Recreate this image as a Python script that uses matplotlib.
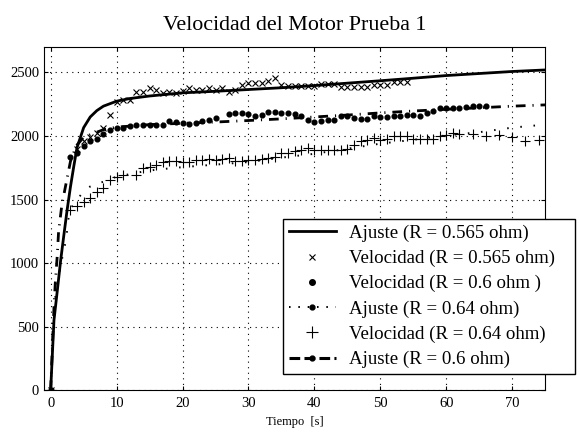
import matplotlib
matplotlib.use("Agg")
import matplotlib.pyplot as plt
from matplotlib.lines import Line2D

plt.rcParams['font.family'] = ['Liberation Serif', 'DejaVu Serif']

# Ajuste (R = 0.565 ohm)
t_fit565 = [0, 0.5, 1, 1.5, 2, 2.5, 3, 3.5, 4, 5, 6, 7, 8, 10, 12, 15, 20, 25, 30, 35, 40, 45, 50, 55, 60, 65, 70, 75]
v_fit565 = [0, 550, 780, 1015, 1220, 1420, 1600, 1760, 1910, 2066, 2150, 2200, 2235, 2274, 2295, 2315, 2340, 2352,
            2366, 2380, 2397, 2416, 2435, 2455, 2476, 2492, 2508, 2520]

# Velocidad (R = 0.565 ohm)
t_vel565 = [0, 4, 5, 6, 7, 8, 9, 10, 11, 12, 13, 14, 15, 16, 17, 18, 19, 20, 21, 22, 23, 24, 25, 26, 27, 28, 29,
            30, 31, 32, 33, 34, 35, 36, 37, 38, 39, 40, 41, 42, 43, 44, 45, 46, 47, 48, 49, 50, 51, 52, 53, 54]
v_vel565 = [0, 1900, 1960, 1990, 2027, 2063, 2165, 2268, 2280, 2280, 2350, 2350, 2379, 2360, 2340, 2345, 2340,
            2353, 2379, 2366, 2366, 2379, 2366, 2379, 2348, 2366, 2405, 2419, 2419, 2419, 2432, 2453, 2405, 2392,
            2392, 2392, 2392, 2392, 2413, 2413, 2413, 2387, 2387, 2387, 2387, 2387, 2405, 2405, 2405, 2424, 2424, 2424]

# Velocidad (R = 0.6 ohm)
t_vel6 = [0, 3, 4, 5, 6, 7, 8, 9, 10, 11, 12, 13, 14, 15, 16, 17, 18, 19, 20, 21, 22, 23, 24, 25, 27, 28, 29,
          30, 31, 32, 33, 34, 35, 36, 37, 38, 39, 40, 41, 42, 43, 44, 45, 46, 47, 48, 49, 50, 51, 52, 53, 54,
          55, 56, 57, 58, 59, 60, 61, 62, 63, 64, 65, 66]
v_vel6 = [0, 1835, 1869, 1919, 1958, 1977, 2019, 2045, 2060, 2066, 2075, 2083, 2085, 2085, 2088, 2088, 2116, 2108,
          2105, 2098, 2105, 2116, 2130, 2143, 2177, 2182, 2182, 2174, 2161, 2169, 2190, 2190, 2182, 2182, 2175,
          2156, 2130, 2108, 2116, 2124, 2130, 2156, 2161, 2143, 2137, 2137, 2156, 2150, 2150, 2161, 2161, 2169,
          2169, 2161, 2182, 2195, 2222, 2218, 2218, 2222, 2230, 2240, 2240, 2240]

# Ajuste (R = 0.64 ohm)
t_fit64 = [0, 0.3, 0.6, 1.1, 1.9, 2.4, 2.6, 3.1, 4, 4.6, 5, 6, 7, 8, 9, 10, 12, 14, 16, 18, 20, 25, 30, 35, 40,
           45, 50, 55, 60, 65, 70, 75]
v_fit64 = [0, 400, 696, 867, 1080, 1196, 1327, 1435, 1500, 1538, 1560, 1603, 1625, 1640, 1660, 1680, 1700, 1720,
           1735, 1745, 1755, 1775, 1795, 1830, 1860, 1900, 1940, 1970, 2005, 2030, 2066, 2090]

# Velocidad (R = 0.64 ohm)
t_vel64 = [0, 3, 4, 5, 6, 7, 8, 9, 10, 11, 13, 14, 15, 16, 17, 18, 19, 20, 21, 22, 23, 24, 25, 26, 27, 28, 29,
           30, 31, 32, 33, 34, 35, 36, 37, 38, 39, 40, 41, 42, 43, 44, 45, 46, 47, 48, 49, 50, 51, 52, 53, 54,
           55, 56, 57, 58, 59, 60, 61, 62, 64, 66, 68, 70, 72, 74]
v_vel64 = [0, 1420, 1450, 1480, 1512, 1556, 1590, 1656, 1674, 1696, 1696, 1748, 1755, 1770, 1793, 1800, 1800,
           1793, 1793, 1809, 1814, 1819, 1814, 1819, 1827, 1800, 1800, 1814, 1814, 1819, 1827, 1835, 1866, 1866,
           1880, 1893, 1906, 1893, 1887, 1887, 1893, 1893, 1898, 1932, 1958, 1972, 1985, 1966, 1977, 1998, 1998,
           1998, 1977, 1977, 1977, 1977, 1998, 2011, 2024, 2019, 2019, 2003, 2011, 1993, 1958, 1972]

# Ajuste (R = 0.6 ohm)
t_fit6 = [0, 0.5, 0.7, 1, 1.2, 1.7, 2.5, 3, 3.5, 4, 5, 6, 7, 8, 10, 15, 20, 25, 30, 35, 40, 45, 50, 55, 60, 65,
          70, 75]
v_fit6 = [0, 650, 843, 1060, 1248, 1459, 1670, 1800, 1870, 1930, 1990, 2010, 2030, 2050, 2070, 2090, 2100, 2110,
          2122, 2135, 2150, 2165, 2182, 2197, 2210, 2222, 2235, 2245]

fig = plt.figure(figsize=(5.8, 4.32), dpi=100)
ax = fig.add_axes([0.076, 0.097, 0.864, 0.794])

ax.plot(t_fit565, v_fit565, '-', color='black', lw=2)
ax.plot(t_vel565, v_vel565, 'x', color='black', ms=5, mew=0.8)
ax.plot(t_vel6, v_vel6, 'o', color='black', ms=3.4)
ax.plot(t_fit64, v_fit64, color='black', lw=1.4, ls=(0, (0.8, 6)))
ax.plot(t_vel64, v_vel64, '+', color='black', ms=7, mew=0.8)
ax.plot(t_fit6, v_fit6, color='black', lw=2, ls=(0, (3.5, 2.5, 0.4, 2.5)))

ax.set_xlim(-1, 75)
ax.set_ylim(0, 2700)
ax.set_xticks(range(0, 71, 10))
ax.set_yticks(range(0, 2501, 500))
ax.grid(True, color='black', ls=(0, (1, 4)), lw=0.8)
ax.tick_params(direction='in', top=True, right=True, labelsize=10.5, length=3)
ax.tick_params(axis='x', pad=5)
for s in ax.spines.values():
    s.set_linewidth(0.8)

ax.set_title('Velocidad del Motor Prueba 1', fontsize=15.8, pad=12)
ax.set_xlabel('Tiempo  [s]', fontsize=9, labelpad=4)

handles = [
    Line2D([], [], color='black', lw=2),
    Line2D([], [], color='black', ls='none', marker='x', ms=4, mew=0.8),
    Line2D([], [], color='black', ls='none', marker='o', ms=4),
    Line2D([], [], color='black', lw=1.4, ls=(0, (0.8, 4)), marker='o', ms=3.5),
    Line2D([], [], color='black', ls='none', marker='+', ms=8, mew=0.8),
    Line2D([], [], color='black', lw=2.2, ls=(0, (3.5, 1.4)), marker='o', ms=3.5),
]
labels = ['Ajuste (R = 0.565 ohm)', 'Velocidad (R = 0.565 ohm)', 'Velocidad (R = 0.6 ohm )',
          'Ajuste (R = 0.64 ohm)', 'Velocidad (R = 0.64 ohm)', 'Ajuste (R = 0.6 ohm)']
leg = fig.legend(handles, labels, loc='upper left',
                 bbox_to_anchor=(283 / 580, 1 - 373 / 432, (575 - 283) / 580, (373 - 219) / 432),
                 bbox_transform=fig.transFigure, mode='expand', fontsize=13.6, numpoints=1,
                 handlelength=2.5, labelspacing=0.42, fancybox=False, framealpha=1, edgecolor='black',
                 borderpad=0.3, handletextpad=0.7, borderaxespad=0)
leg.get_frame().set_linewidth(1)

fig.savefig('out.png', dpi=100)
